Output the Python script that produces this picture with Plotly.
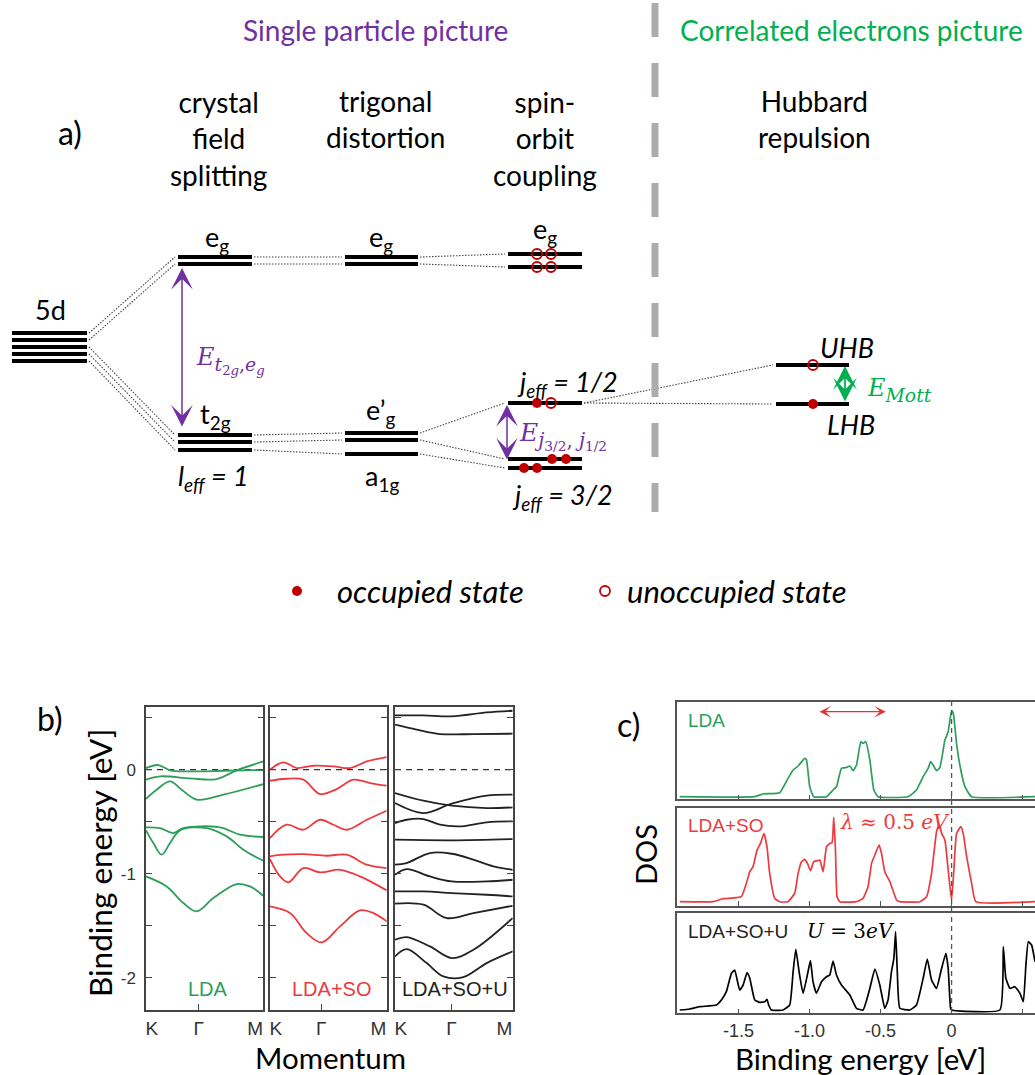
import plotly.graph_objects as go

W, H = 1035, 1075
SANS = "Lato"
MATH = "DejaVu Serif"
HELV = "Liberation Sans"
PURPLE = "#7030A0"
GREEN = "#00B050"
DOTRED = "#C00000"
LDA_GREEN = "#2E9E5B"
SO_RED = "#EE3A3F"
U_BLACK = "#222222"

# ---------------- Panel a: schematic level diagram ----------------
# columns (horizontal extent of each level group) and level heights (schematic units)
col_5d = (12, 87)
col_cf = (178, 252)
col_tr = (345, 418)
col_so = (508, 582)
col_hub = (776, 849)

lv_5d = [333, 340, 347, 354, 361]
lv_cf_eg = [257, 264]
lv_cf_t2g = [435, 442, 450]
lv_tr_eg = [257, 264]
lv_tr_ep = [433, 440]
lv_tr_a1g = [454]
lv_so_eg = [254, 267]
lv_so_j12 = [403]
lv_so_j32 = [459, 468]
lv_hub = [365, 404]  # UHB, LHB

occ_x = [537, 552, 566, 524, 537, 813]
occ_y = [403, 459, 459, 468, 468, 404]
unocc_x = [537, 551, 537, 551, 551, 813]
unocc_y = [254, 254, 267, 267, 403, 365]
legend_marker_x = [297, 605]
legend_marker_y = [591, 591]

# ---------------- Panel b: band structures ----------------
gamma_k = [0.45, 0.44, 0.48]
lda_bands = [
    ([0, 0.105, 0.205, 0.375, 0.659, 1.0], [0.016, 0.045, -0.006, -0.016, -0.010, -0.003]),
    ([0, 0.119, 0.375, 0.602, 0.773, 1.0], [-0.096, -0.064, -0.083, -0.090, -0.006, 0.080]),
    ([0, 0.091, 0.205, 0.304, 0.432, 0.659, 1.0], [-0.279, -0.192, -0.112, -0.192, -0.288, -0.240, -0.138]),
    ([0, 0.119, 0.233, 0.318, 0.631, 0.801, 1.0], [-0.554, -0.561, -0.609, -0.561, -0.554, -0.625, -0.647]),
    ([0, 0.0625, 0.134, 0.205, 0.290, 0.517, 0.688, 0.830, 1.0],
     [-0.583, -0.705, -0.817, -0.705, -0.583, -0.561, -0.641, -0.769, -0.875]),
    ([0, 0.176, 0.318, 0.432, 0.574, 0.773, 0.886, 1.0],
     [-1.026, -1.122, -1.282, -1.362, -1.234, -1.099, -1.122, -1.212]),
]
ldaso_bands = [
    ([0, 0.114, 0.229, 0.371, 0.543, 0.686, 0.829, 1.0], [0, 0.071, 0.016, 0.038, 0.032, 0.016, 0.080, 0.122]),
    ([0, 0.143, 0.286, 0.429, 0.571, 0.714, 0.857, 1.0], [-0.106, -0.087, -0.096, -0.234, -0.186, -0.096, -0.128, -0.154]),
    ([0, 0.143, 0.286, 0.429, 0.543, 0.657, 0.829, 1.0], [-0.657, -0.529, -0.577, -0.481, -0.529, -0.577, -0.481, -0.394]),
    ([0, 0.114, 0.286, 0.486, 0.657, 0.829, 1.0], [-0.833, -0.817, -0.811, -0.827, -0.817, -0.913, -0.946]),
    ([0, 0.086, 0.157, 0.286, 0.429, 0.6, 0.771, 1.0], [-0.859, -1.026, -1.083, -0.946, -0.987, -0.962, -1.026, -1.160]),
    ([0, 0.171, 0.314, 0.443, 0.6, 0.771, 0.886, 1.0], [-1.314, -1.378, -1.571, -1.660, -1.506, -1.353, -1.378, -1.458]),
]
ldasou_bands = [
    ([0, 0.241, 0.482, 0.779, 1.0], [0.522, 0.522, 0.513, 0.551, 0.567]),
    ([0, 0.184, 0.382, 0.666, 1.0], [0.433, 0.385, 0.343, 0.343, 0.346]),
    ([0, 0.241, 0.482, 0.779, 1.0], [-0.224, -0.298, -0.346, -0.369, -0.362]),
    ([0, 0.241, 0.482, 0.779, 1.0], [-0.321, -0.417, -0.327, -0.250, -0.240]),
    ([0, 0.099, 0.241, 0.382, 0.552, 0.779, 1.0], [-0.513, -0.481, -0.474, -0.529, -0.545, -0.506, -0.497]),
    ([0, 0.482, 1.0], [-0.673, -0.679, -0.667]),
    ([0, 0.099, 0.297, 0.482, 0.666, 0.836, 1.0], [-0.913, -0.897, -0.801, -0.808, -0.865, -0.929, -0.962]),
    ([0, 0.099, 0.297, 0.482, 0.779, 1.0], [-1.010, -0.955, -1.026, -1.074, -1.074, -1.058]),
    ([0, 0.241, 0.482, 0.779, 1.0], [-1.170, -1.170, -1.186, -1.202, -1.218]),
    ([0, 0.241, 0.439, 0.666, 1.0], [-1.288, -1.298, -1.426, -1.378, -1.308]),
    ([0, 0.099, 0.297, 0.482, 0.666, 1.0], [-1.635, -1.609, -1.699, -1.811, -1.731, -1.426]),
    ([0, 0.099, 0.269, 0.411, 0.581, 0.779, 1.0], [-1.795, -1.724, -1.859, -1.987, -1.994, -1.859, -1.747]),
]
band_yticks = [-2, -1, 0]
band_yticktext = ["-2", "-1", "0"]
band_yminor = [-1.5, -0.5, 0.5]

# ---------------- Panel c: densities of states ----------------
dos_lda_E = [-1.913, -1.385, -1.327, -1.209, -1.151, -1.115, -1.080, -1.033, -1.021, -0.998, -0.970,
             -0.880, -0.834, -0.810, -0.775, -0.739, -0.716, -0.693, -0.669, -0.639, -0.623, -0.604,
             -0.575, -0.547, -0.517, -0.306, -0.247, -0.200, -0.165, -0.148, -0.130, -0.106, -0.082,
             -0.047, -0.024, 0.0, 0.012, 0.035, 0.058, 0.094, 0.141, 0.587]
dos_lda = [0, 0, 2.7, 4, 18.3, 26.7, 30.7, 38.3, 36.7, 10, 0,
           0, 6.7, 10, 28.3, 29.3, 30.7, 26, 31.7, 55, 53.3, 55,
           36.7, 6.7, 0, 0, 6.7, 20, 28.3, 35, 31.7, 26, 29.3,
           56.7, 65, 86, 83.3, 53.3, 31.7, 10, 0, 0]

dos_so_E = [-1.913, -1.679, -1.608, -1.514, -1.479, -1.444, -1.420, -1.397, -1.369, -1.345, -1.320,
            -1.299, -1.280, -1.244, -1.209, -1.151, -1.104, -1.080, -1.056, -1.033, -1.014, -0.993,
            -0.970, -0.946, -0.927, -0.904, -0.880, -0.857, -0.841, -0.829, -0.817, -0.806, -0.787,
            -0.669, -0.623, -0.588, -0.563, -0.540, -0.510, -0.493, -0.470, -0.434, -0.387, -0.364,
            -0.223, -0.176, -0.141, -0.106, -0.087, -0.070, -0.047, -0.024, 0.0, 0.016, 0.035,
            0.065, 0.082, 0.106, 0.141, 0.171, 0.587]
dos_so = [0, 0, 3, 4, 5, 18.3, 30, 35, 51.7, 58.3, 68.3,
          55, 28.3, 3.3, 0, 0, 8.3, 28.3, 40, 42.3, 38.3, 31,
          40, 41, 41.7, 30, 55, 58.3, 59, 84.3, 51.7, 5, 0,
          0, 3.3, 15, 38.3, 46.7, 56.7, 48.3, 30, 20, 1.7, 0,
          0, 5, 28.3, 70, 77.7, 68.3, 61.7, 31.7, 1.7, 31.7, 68.3,
          75, 68.3, 45, 18.3, 0, 0]

dos_u_E = [-1.913, -1.843, -1.772, -1.655, -1.620, -1.585, -1.549, -1.526, -1.491, -1.467, -1.439,
           -1.420, -1.385, -1.350, -1.315, -1.299, -1.287, -1.268, -1.186, -1.139, -1.115, -1.096,
           -1.073, -1.045, -1.010, -0.993, -0.975, -0.951, -0.915, -0.880, -0.857, -0.834, -0.810,
           -0.775, -0.716, -0.669, -0.623, -0.575, -0.540, -0.505, -0.470, -0.447, -0.423, -0.406,
           -0.394, -0.382, -0.364, -0.294, -0.247, -0.200, -0.171, -0.141, -0.106, -0.070, -0.040,
           -0.024, -0.007, 0.0, 0.340, 0.364, 0.382, 0.411, 0.446, 0.481, 0.505, 0.523,
           0.540, 0.563, 0.587]
dos_u = [0, 1, 3.3, 5, 10, 18.3, 36.7, 40, 20, 25, 37.3,
         31.7, 10, 7.7, 8.3, 10.7, 5, 0, 0, 5, 38.3, 60.7,
         38.3, 16.7, 38.3, 49.3, 28.3, 16.7, 28.3, 33.3, 35, 49, 35,
         25, 15, 1.7, 0, 21.7, 41, 25, 1.7, 10, 38.3, 51.7,
         78.3, 38.3, 1.7, 0, 5, 31.7, 51, 30, 21.7, 41.7, 56.7,
         41.7, 1.7, 0, 0, 63.3, 31.7, 21.7, 23.3, 16.7, 8.3, 45,
         68.3, 65, 48.3]
dos_xticks = [-1.5, -1.0, -0.5, 0, 0.5]
dos_xticktext = ["-1.5", "-1.0", "-0.5", "0", "0.5"]

fig = go.Figure()

# --- panel a traces ---
level_groups = [
    (col_5d, lv_5d), (col_cf, lv_cf_eg), (col_cf, lv_cf_t2g),
    (col_tr, lv_tr_eg), (col_tr, lv_tr_ep), (col_tr, lv_tr_a1g),
    (col_so, lv_so_eg), (col_so, lv_so_j12), (col_so, lv_so_j32),
    (col_hub, lv_hub),
]
lx, ly = [], []
for col, lvs in level_groups:
    for v in lvs:
        lx += [col[0], col[1], None]
        ly += [v, v, None]

links = [
    (col_5d, lv_5d[0], col_cf, lv_cf_eg[0]), (col_5d, lv_5d[1], col_cf, lv_cf_eg[1]),
    (col_5d, lv_5d[2], col_cf, lv_cf_t2g[0]), (col_5d, lv_5d[3], col_cf, lv_cf_t2g[1]),
    (col_5d, lv_5d[4], col_cf, lv_cf_t2g[2]),
    (col_cf, lv_cf_eg[0], col_tr, lv_tr_eg[0]), (col_cf, lv_cf_eg[1], col_tr, lv_tr_eg[1]),
    (col_cf, lv_cf_t2g[0], col_tr, lv_tr_ep[0]), (col_cf, lv_cf_t2g[1], col_tr, lv_tr_ep[1]),
    (col_cf, lv_cf_t2g[2], col_tr, lv_tr_a1g[0]),
    (col_tr, lv_tr_eg[0], col_so, lv_so_eg[0]), (col_tr, lv_tr_eg[1], col_so, lv_so_eg[1]),
    (col_tr, lv_tr_ep[0], col_so, lv_so_j12[0]), (col_tr, lv_tr_ep[1], col_so, lv_so_j32[0]),
    (col_tr, lv_tr_a1g[0], col_so, lv_so_j32[1]),
    (col_so, lv_so_j12[0], col_hub, lv_hub[0]), (col_so, lv_so_j12[0], col_hub, lv_hub[1]),
]
cx, cy = [], []
for c0, y0, c1, y1 in links:
    cx += [c0[1] + 2, c1[0] - 3, None]
    cy += [y0, y1, None]

fig.add_trace(go.Scatter(x=cx, y=cy, mode="lines", xaxis="x", yaxis="y",
                         line=dict(color="#444444", width=1.1, dash="1.5px,1.5px")))
fig.add_trace(go.Scatter(x=lx, y=ly, mode="lines", xaxis="x", yaxis="y",
                         line=dict(color="black", width=4)))
# separator between the two pictures
fig.add_trace(go.Scatter(x=[655, 655], y=[3, 512], mode="lines", xaxis="x", yaxis="y",
                         line=dict(color="#AFABAB", width=7, dash="34px,26px")))
fig.add_trace(go.Scatter(x=occ_x + legend_marker_x[:1], y=occ_y + legend_marker_y[:1], mode="markers",
                         xaxis="x", yaxis="y", marker=dict(symbol="circle", size=10, color=DOTRED)))
fig.add_trace(go.Scatter(x=unocc_x + legend_marker_x[1:], y=unocc_y + legend_marker_y[1:], mode="markers",
                         xaxis="x", yaxis="y",
                         marker=dict(symbol="circle-open", size=10, color=DOTRED, line=dict(width=1.8, color=DOTRED))))

# --- panel b traces ---
band_sets = [(lda_bands, LDA_GREEN), (ldaso_bands, SO_RED), (ldasou_bands, U_BLACK)]
for i, (bands, colr) in enumerate(band_sets):
    xa, ya = f"x{i+2}", f"y{i+2}"
    fig.add_trace(go.Scatter(x=[0, 1], y=[0, 0], mode="lines", xaxis=xa, yaxis=ya,
                             line=dict(color="#333333", width=1.3, dash="6px,5px")))
    for k, e in bands:
        fig.add_trace(go.Scatter(x=k, y=e, mode="lines", xaxis=xa, yaxis=ya,
                                 line=dict(color=colr, width=1.8, shape="spline", smoothing=1.0)))

# --- panel c traces ---
dos_sets = [(dos_lda_E, dos_lda, LDA_GREEN), (dos_so_E, dos_so, SO_RED), (dos_u_E, dos_u, "black")]
for i, (E, d, colr) in enumerate(dos_sets):
    fig.add_trace(go.Scatter(x=E, y=d, mode="lines", xaxis=f"x{i+5}", yaxis=f"y{i+5}",
                             line=dict(color=colr, width=1.7, shape="spline", smoothing=0.4)))

# ---------------- layout ----------------
def P(px, py):
    return px / W, 1 - py / H

layout = dict(
    width=W, height=H, margin=dict(l=0, r=0, t=0, b=0),
    paper_bgcolor="white", plot_bgcolor="rgba(0,0,0,0)", showlegend=False,
    xaxis=dict(domain=[0, 1], range=[0, W], visible=False, anchor="y", fixedrange=True),
    yaxis=dict(domain=[1 - 620 / H, 1], range=[620, 0], visible=False, anchor="x", fixedrange=True),
)

b_dom_x = [(146, 263.3), (270, 386.7), (395, 512.7)]
b_dom_y = [1 - 1010 / H, 1 - 707.3 / H]
for i in range(3):
    n = i + 2
    layout[f"xaxis{n}"] = dict(
        domain=[b_dom_x[i][0] / W, b_dom_x[i][1] / W], range=[0, 1], anchor=f"y{n}",
        showline=True, linecolor="#444444", linewidth=1.5, mirror=True,
        tickvals=[0.05, gamma_k[i], 0.93], ticktext=["K", "Γ", "M"], ticks="",
        tickfont=dict(family=HELV, size=19, color="#333333"), showgrid=False, zeroline=False,
        minor=dict(tickvals=[gamma_k[i]], ticks="inside", ticklen=6, tickcolor="#444444", tickwidth=1.3),
    )
    layout[f"yaxis{n}"] = dict(
        domain=b_dom_y, range=[-2.31, 0.6], anchor=f"x{n}",
        showline=True, linecolor="#444444", linewidth=1.5, mirror="ticks",
        tickvals=band_yticks, ticktext=band_yticktext, ticks="inside", ticklen=6,
        tickcolor="#444444", tickwidth=1.3, showticklabels=(i == 0), ticklabelstandoff=5,
        tickfont=dict(family=HELV, size=17, color="#333333"), showgrid=False, zeroline=False,
        minor=dict(tickvals=band_yminor, ticks="inside", ticklen=6, tickcolor="#444444", tickwidth=1.3),
    )

c_dom_y = [(1 - 799.3 / H, 1 - 701.7 / H), (1 - 906 / H, 1 - 808.3 / H), (1 - 1013.3 / H, 1 - 913.3 / H)]
c_yrange = [[-2.6, 95], [-4.3, 93.4], [-3.3, 96.7]]
for i in range(3):
    n = i + 5
    layout[f"xaxis{n}"] = dict(
        domain=[677.3 / W, 1.0], range=[-1.93, 0.587], anchor=f"y{n}",
        showline=True, linecolor="#555555", linewidth=1.5, mirror=True,
        tickvals=dos_xticks, ticktext=dos_xticktext, showticklabels=(i == 2),
        ticks="inside", ticklen=5, tickcolor="#555555", tickwidth=1.3, ticklabelstandoff=0,
        tickfont=dict(family=HELV, size=18, color="#333333"), showgrid=False, zeroline=False,
    )
    layout[f"yaxis{n}"] = dict(
        domain=list(c_dom_y[i]), range=c_yrange[i], anchor=f"x{n}",
        showline=True, linecolor="#555555", linewidth=1.5, showticklabels=False, ticks="",
        showgrid=False, zeroline=False,
    )

fig.update_layout(**layout)

# vertical dashed Fermi line through DOS panels
fig.add_shape(type="line", xref="x5", yref="paper", x0=0, x1=0,
              y0=1 - 1012 / H, y1=1 - 701.7 / H, line=dict(color="#555555", width=1.3, dash="5px,4px"))

ann = []

def ta(x, y, s, size, color="black", family=SANS, xref="x", yref="y", angle=0, xanchor="center", pad=1):
    ann.append(dict(x=x, y=y, xref=xref, yref=yref, text=s, showarrow=False, textangle=angle,
                    xanchor=xanchor, yanchor="middle", borderpad=pad,
                    font=dict(family=family, size=size, color=color)))

def tp(px, py, s, size, color="black", family=SANS, angle=0, xanchor="center", pad=1):
    x, y = P(px, py)
    ta(x, y, s, size, color, family, "paper", "paper", angle, xanchor, pad)

# panel a texts
ta(375, 30, "Single particle picture", 28, PURPLE)
ta(851, 30, "Correlated electrons picture", 28, GREEN)
ta(70, 132, "a)", 32)
ta(218, 138, "crystal<br>field<br>splitting", 28)
ta(385, 119, "trigonal<br>distortion", 28)
ta(545, 138, "spin-<br>orbit<br>coupling", 28)
ta(814, 119, "Hubbard<br>repulsion", 28)
ta(50, 309, "5d", 27)
ta(217, 238, "e<sub>g</sub>", 27)
ta(381, 238, "e<sub>g</sub>", 27)
ta(545, 230, "e<sub>g</sub>", 27)
ta(215, 415, "t<sub>2g</sub>", 27)
ta(381, 411, "e’<sub>g</sub>", 27)
ta(382, 477, "a<sub>1g</sub>", 27)
ta(213, 477, "<i>l</i><sub><i>eff</i></sub><i> = 1</i>", 27)
ta(567, 383, "<i>j</i><sub><i>eff</i></sub><i> = 1/2</i>", 27)
ta(562, 496, "<i>j</i><sub><i>eff</i></sub><i> = 3/2</i>", 27)
ta(847, 347, "<i>UHB</i>", 27)
ta(851, 424, "<i>LHB</i>", 27)
ta(194, 360, "<span style='font-size:24px'><i>E</i></span><sub><i>t</i><sub>2<i>g</i></sub>,<i>e</i><sub><i>g</i></sub></sub>",
   27, PURPLE, MATH, xanchor="left")
ta(517, 436, "<span style='font-size:25px'><i>E</i></span><sub><i>j</i><sub>3/2</sub>, <i>j</i><sub>1/2</sub></sub>",
   28, PURPLE, MATH, xanchor="left")
ta(865, 390, "<span style='font-size:24px'><i>E</i></span><sub><i>Mott</i></sub>", 27, GREEN, MATH, xanchor="left")
ta(335, 591, "<i>occupied state</i>", 31, xanchor="left")
ta(625, 591, "<i>unoccupied state</i>", 31, xanchor="left")

# arrows (energy gaps)
def arrow(x, y0, y1, color, size, width=1.5, xref="x", yref="y", head=3):
    ann.append(dict(x=x, y=y0, ax=x, ay=y1, xref=xref, yref=yref, axref=xref, ayref=yref, text="",
                    showarrow=True, arrowhead=head, startarrowhead=head, arrowside="end+start",
                    arrowsize=size, startarrowsize=size, arrowwidth=width, arrowcolor=color,
                    standoff=0, startstandoff=0))

arrow(182, 268, 428, PURPLE, 2.4)
arrow(507, 405, 461, PURPLE, 2.4)
arrow(845, 366, 403, GREEN, 2.2, width=1.8)

# panel b texts
tp(50, 718, "b)", 32)
tp(100, 863, "Binding energy [eV]", 31.5, angle=-90)
tp(330, 1057, "Momentum", 29.5, pad=0)
tp(208, 989, "LDA", 20, LDA_GREEN, HELV)
tp(331, 989, "LDA+SO", 20, SO_RED, HELV)
tp(455, 989, "LDA+SO+U", 20, "#222222", HELV)

# panel c texts
tp(628, 724, "c)", 32)
tp(645, 855, "DOS", 29, angle=-90)
tp(860, 1058, "Binding energy [eV]", 29.5, pad=0)
tp(686, 720, "LDA", 19, LDA_GREEN, HELV, xanchor="left")
tp(686, 825, "LDA+SO", 19, SO_RED, HELV, xanchor="left")
tp(686, 931, "LDA+SO+U", 19, "#222222", HELV, xanchor="left")
tp(805, 931, "<i>U</i> = 3<i>eV</i>", 20, "black", MATH, xanchor="left")
tp(838, 822, "<i>λ</i> ≈ 0.5 <i>eV</i>", 20, SO_RED, MATH, xanchor="left")

# red double arrow in LDA DOS panel (horizontal)
ann.append(dict(x=-0.463, y=85, ax=-0.94, ay=85, xref="x5", yref="y5", axref="x5", ayref="y5", text="",
                showarrow=True, arrowhead=3, startarrowhead=3, arrowside="end+start",
                arrowsize=1.6, startarrowsize=1.6, arrowwidth=1.2, arrowcolor="#E83030",
                standoff=0, startstandoff=0))

fig.update_layout(annotations=ann)
fig.write_html("out.html")
